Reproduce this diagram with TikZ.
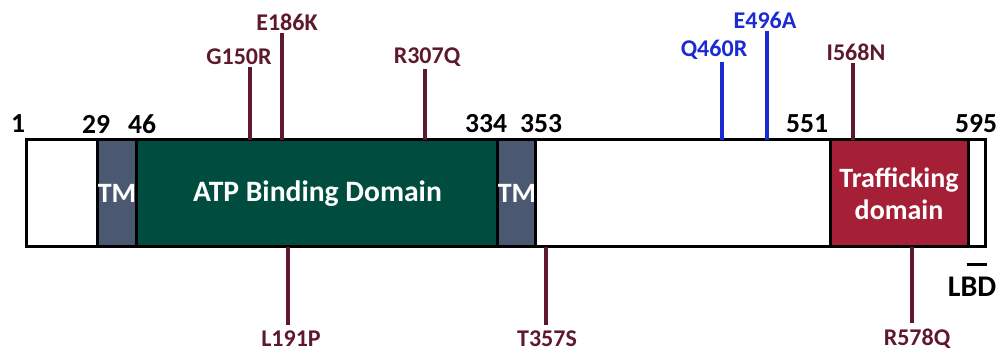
\documentclass[tikz,border=0pt]{standalone}
\usepackage{fontspec}
\setmainfont{Carlito}
\usetikzlibrary{positioning}
\definecolor{tmcol}{HTML}{4A5872}
\definecolor{atpcol}{HTML}{004D3F}
\definecolor{trafcol}{HTML}{A51F37}
\definecolor{mutred}{HTML}{5E1A2C}
\definecolor{mutblue}{HTML}{1A2BD1}
\tikzset{seg/.style={rectangle,draw=black,line width=1.5pt,minimum height=53.5pt,
inner sep=0pt,text=white,align=center,font=\fontsize{14}{16}\selectfont\bfseries},
resnum/.style={inner sep=0pt,font=\fontsize{13.8}{14}\selectfont\bfseries},
mut/.style={inner sep=1pt,font=\fontsize{12}{13}\selectfont\bfseries},
mutline/.style={line width=1.8pt}}
\begin{document}
\begin{tikzpicture}[x=0.5pt,y=-0.5pt]
  \useasboundingbox (0,0) rectangle (1004,356);
  % protein bar
  \node [seg,fill=white,minimum width=36pt] (nterm) at (62,193.5) {};
  \node [seg,fill=tmcol,minimum width=19pt] (tm1) at (117,193.5) {TM};
  \node [seg,fill=atpcol,minimum width=181.5pt,font=\fontsize{14.8}{16}\selectfont\bfseries] (atp) at (317.5,193.5) {ATP Binding Domain};
  \node [seg,fill=tmcol,minimum width=18pt] (tm2) at (517,193.5) {TM};
  \node [seg,fill=white,minimum width=147.5pt] (mid) at (682.5,193.5) {};
  \node [seg,fill=trafcol,minimum width=69pt] (traf) at (899,193.5) {Trafficking\\domain};
  \node [seg,fill=white,minimum width=8.5pt] (cterm) at (976.5,193.5) {};
  % residue numbers
  \foreach \r/\x in {1/18,29/96,46/142,334/486,353/541,551/807,595/976}
    \node [resnum] (r\r) at (\x,124) {\r};
  % mutations above
  \foreach \m/\x/\lx/\ly/\c in {G150R/250/239/57/mutred,E186K/282/287/22/mutred,
      R307Q/425/427/57/mutred,Q460R/722/714/50/mutblue,E496A/767/765/20/mutblue,
      I568N/853/856/52/mutred} {
    \node [mut,text=\c] (l\m) at (\lx,\ly) {\m};
    \coordinate (p\m) at (\x,140);
    \draw [mutline,\c] (p\m) -- (p\m |- l\m.south);
  }
  % mutations below
  \foreach \m/\x/\lx in {L191P/288/291,T357S/546/547,R578Q/912/917} {
    \node [mut,text=mutred] (l\m) at (\lx,339) {\m};
    \coordinate (p\m) at (\x,247);
    \draw [mutline,mutred] (p\m) -- ([yshift=2pt]p\m |- l\m.north);
  }
  % LBD
  \node [resnum,font=\fontsize{15}{16}\selectfont\bfseries] (lbd) at (972,287) {LBD};
  \draw [line width=1.5pt] ([yshift=-8pt]cterm.south west) -- ([yshift=-8pt]cterm.south east);
\end{tikzpicture}
\end{document}
